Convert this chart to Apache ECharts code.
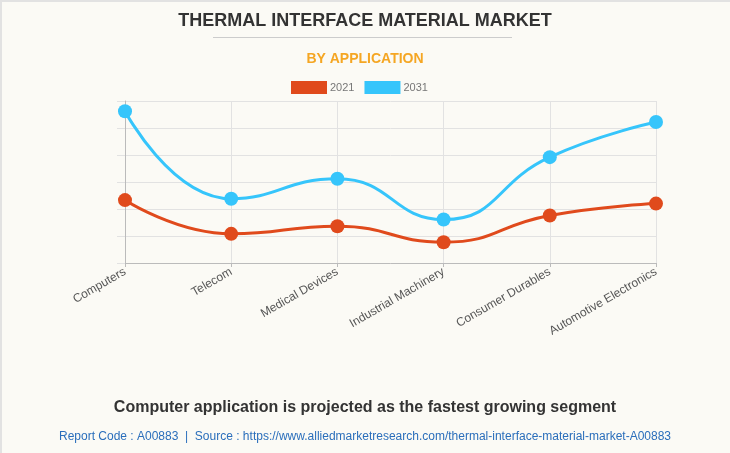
<!DOCTYPE html>
<html>
<head>
<meta charset="utf-8">
<script src="https://cdn.jsdelivr.net/npm/echarts@6/dist/echarts.min.js"></script>
<style>
html,body{margin:0;padding:0;background:#fbfaf5;}
#c{width:730px;height:453px;}
</style>
</head>
<body>
<div id="c"></div>
<script>
const categories = ["Computers","Telecom","Medical Devices","Industrial Machinery","Consumer Durables","Automotive Electronics"];
const values2021 = [2.33, 1.08, 1.36, 0.77, 1.76, 2.20];
const values2031 = [5.62, 2.38, 3.12, 1.61, 3.92, 5.22];
const seriesNames = ["2021","2031"];
const titleText = "THERMAL INTERFACE MATERIAL MARKET";
const subtitleText = "BY APPLICATION";
const noteText = "Computer application is projected as the fastest growing segment";
const sourceText = "Report Code : A00883  |  Source : https://www.alliedmarketresearch.com/thermal-interface-material-market-A00883";

const chart = echarts.init(document.getElementById('c'), null, {renderer:'canvas'});
const red = '#e04a1c', blue = '#36c5fb';
chart.setOption({
  backgroundColor: '#fbfaf5',
  animation: false,
  title: [
    {text: titleText, left: 'center', top: 7, textStyle:{fontFamily:'Arial, Liberation Sans', fontSize:18, fontWeight:'bold', color:'#333'}},
    {text: subtitleText, left: 'center', top: 47, textStyle:{fontFamily:'Arial, Liberation Sans', fontSize:14, fontWeight:'bold', color:'#f5a623'}},
    {text: noteText, left: 'center', top: 395, textStyle:{fontFamily:'Arial, Liberation Sans', fontSize:16, fontWeight:'bold', color:'#333'}},
    {text: sourceText, left: 'center', top: 426, textStyle:{fontFamily:'Arial, Liberation Sans', fontSize:12, fontWeight:'normal', color:'#2a6ebb'}}
  ],
  graphic: [
    {type:'line', shape:{x1:213, y1:37.5, x2:512, y2:37.5}, style:{stroke:'#cccccc', lineWidth:1}},
    {type:'line', shape:{x1:0, y1:1, x2:730, y2:1}, style:{stroke:'#e2e2e2', lineWidth:2}},
    {type:'line', shape:{x1:1, y1:0, x2:1, y2:453}, style:{stroke:'#e2e2e2', lineWidth:2}}
  ],
  legend: {
    data: seriesNames, top: 76, left: 286, itemWidth: 36, itemHeight: 13, itemGap: 10,
    icon: 'rect',
    textStyle: {fontFamily:'Arial, Liberation Sans', fontSize: 11, color: '#777', padding:[0,0,0,-2]}
  },
  grid: {left: 125, right: 74, top: 101, bottom: 190},
  xAxis: {
    type: 'category', data: categories, boundaryGap: false,
    axisLine: {lineStyle:{color:'#bbb'}},
    axisTick: {show:true, length:4, lineStyle:{color:'#bbb'}},
    splitLine: {show:true, lineStyle:{color:'#e2e2e2'}},
    axisLabel: {rotate: 30, fontFamily:'Arial, Liberation Sans', fontSize: 12, color:'#555', margin: 8}
  },
  yAxis: {
    type: 'value', min: 0, max: 6, interval: 1,
    axisLine: {show:true, lineStyle:{color:'#bbb'}},
    axisTick: {show:true, length:8, lineStyle:{color:'#e2e2e2'}},
    axisLabel: {show:false},
    splitLine: {show:true, lineStyle:{color:'#e2e2e2'}}
  },
  series: [
    {name: seriesNames[0], type:'line', data: values2021, smooth: true, symbol:'circle', symbolSize: 14,
     itemStyle:{color: red}, lineStyle:{width:3, color: red}},
    {name: seriesNames[1], type:'line', data: values2031, smooth: true, symbol:'circle', symbolSize: 14,
     itemStyle:{color: blue}, lineStyle:{width:3, color: blue}}
  ]
});
</script>
</body>
</html>
